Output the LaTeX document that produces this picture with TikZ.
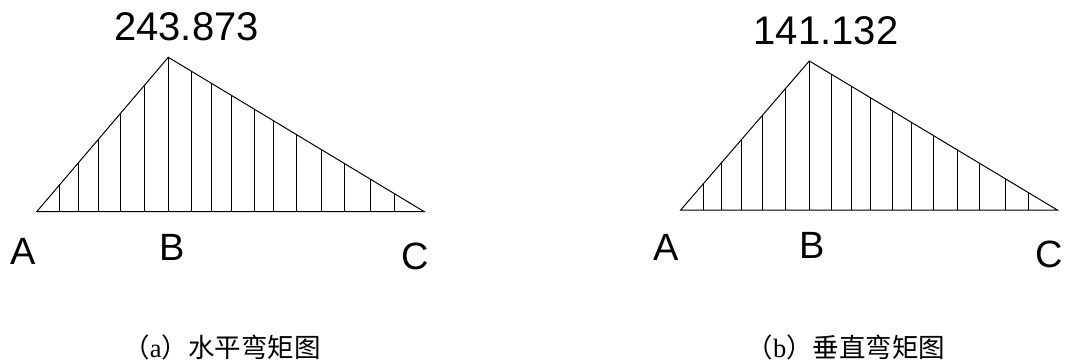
\documentclass[tikz,border=0pt]{standalone}
\usepackage{fontspec}
\setmainfont{Liberation Sans}
\newfontfamily\cjk{Noto Sans CJK SC}
\newfontfamily\latinserif{Liberation Serif}
\usetikzlibrary{calc}
\begin{document}
\begin{tikzpicture}[x=1pt,y=-1pt,
  lbl/.style={font=\fontsize{38}{40}\selectfont, inner sep=0pt},
  numlbl/.style={font=\fontsize{40}{42}\selectfont, inner sep=0pt},
  captext/.style={font=\fontsize{26.5}{28}\selectfont, inner sep=0pt},
  triline/.style={line width=1pt, black},
  hatchline/.style={line width=0.9pt, black}]
\useasboundingbox (0,0) rectangle (1065,361);
% ---------- (a) horizontal ----------
\coordinate (a1) at (36.7,211.7);
\coordinate (a2) at (168.3,57.3);
\coordinate (a3) at (424.3,211.7);
\draw[triline] (a1) -- (a2) -- (a3) -- cycle;
\draw[hatchline] (a2) -- (a2 |- a1);
\foreach \f in {0.174,0.319,0.473,0.638,0.817}{
  \coordinate (h) at ($(a1)!\f!(a2)$);
  \draw[hatchline] (h) -- (h |- a1);}
\foreach \f in {0.089,0.17,0.245,0.337,0.411,0.5,0.598,0.688,0.79,0.883}{
  \coordinate (h) at ($(a2)!\f!(a3)$);
  \draw[hatchline] (h) -- (h |- a1);}
\node[numlbl] (aval) at (186.5,26.5) {243.873};
\node[lbl] (aA) at (23.3,251.7) {A};
\node[lbl] (aB) at (172.5,247.5) {B};
\node[lbl] (aC) at (415,256.7) {C};
\node[captext] (acap) at (222,347) {\cjk （\latinserif a\cjk ）水平弯矩图};
% ---------- (b) vertical ----------
\coordinate (b1) at (680.7,210);
\coordinate (b2) at (809.3,61);
\coordinate (b3) at (1057.3,210);
\draw[triline] (b1) -- (b2) -- (b3) -- cycle;
\draw[hatchline] (b2) -- (b2 |- b1);
\foreach \f in {0.174,0.319,0.473,0.638,0.817}{
  \coordinate (h) at ($(b1)!\f!(b2)$);
  \draw[hatchline] (h) -- (h |- b1);}
\foreach \f in {0.089,0.17,0.245,0.337,0.411,0.5,0.598,0.688,0.79,0.883}{
  \coordinate (h) at ($(b2)!\f!(b3)$);
  \draw[hatchline] (h) -- (h |- b1);}
\node[numlbl] (bval) at (826,31) {141.132};
\node[lbl] (bA) at (665.8,247.5) {A};
\node[lbl] (bB) at (812.5,245.8) {B};
\node[lbl] (bC) at (1049,254) {C};
\node[captext] (bcap) at (846,347) {\cjk （\latinserif b\cjk ）垂直弯矩图};
\end{tikzpicture}
\end{document}
